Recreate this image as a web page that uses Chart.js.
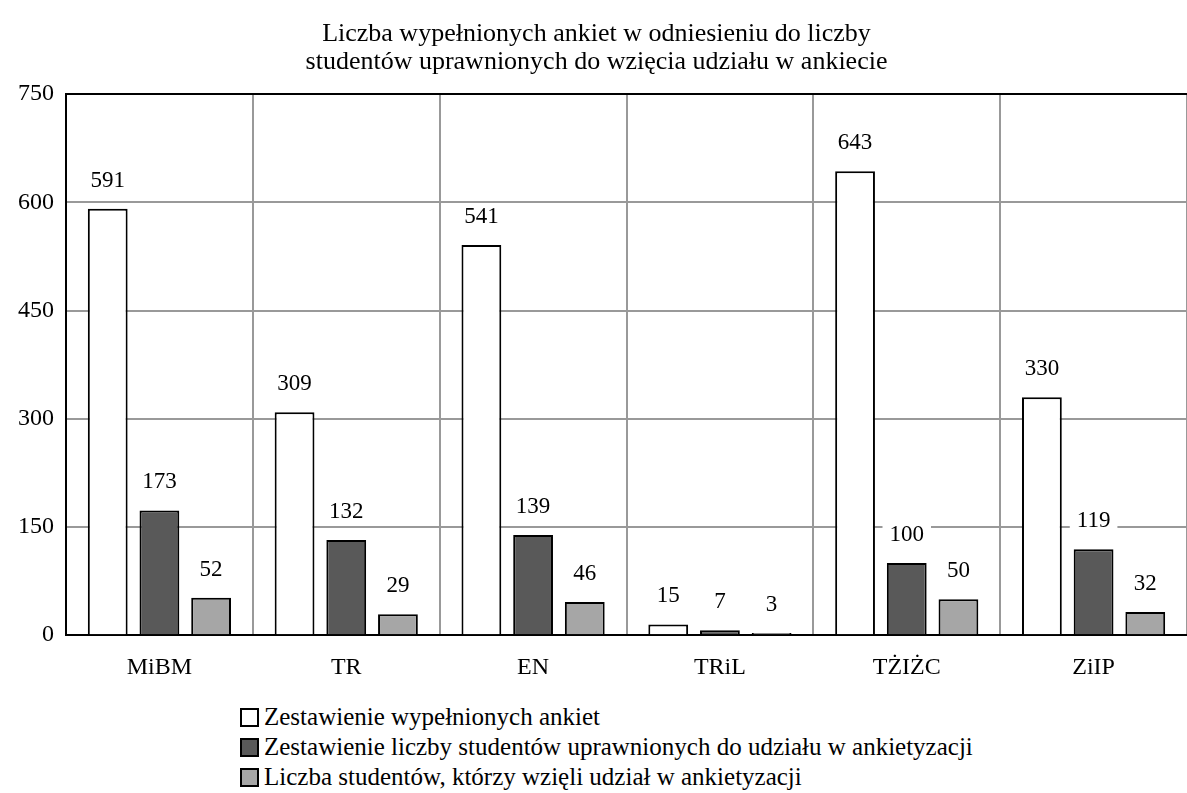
<!DOCTYPE html>
<html>
<head>
<meta charset="utf-8">
<script src="https://cdn.jsdelivr.net/npm/chart.js@4.4.0/dist/chart.umd.min.js"></script>
<style>
  body { margin: 0; background: #fff; overflow: hidden; }
  #wrap { position: relative; width: 1187px; height: 700px; }
  #legend { position: absolute; left: 240px; top: 702px; font-family: "Liberation Serif", serif; font-size: 25px; color: #000; }
  #legend div { height: 30px; line-height: 30px; display: flex; align-items: center; }
  #legend span.box { display: inline-block; width: 15px; height: 15px; border: 2px solid #000; margin-right: 5px; }
</style>
</head>
<body>
<div id="wrap"><canvas id="barCanvas"></canvas></div>
<div id="legend"></div>
<script>
var categories = ['MiBM', 'TR', 'EN', 'TRiL', 'TŻIŻC', 'ZiIP'];
var filledSurveys = [591, 309, 541, 15, 643, 330];
var eligibleStudents = [173, 132, 139, 7, 100, 119];
var participants = [52, 29, 46, 3, 50, 32];
var yTicks = [0, 150, 300, 450, 600, 750];

var seriesNames = [
    'Zestawienie wypełnionych ankiet',
    'Zestawienie liczby studentów uprawnionych do udziału w ankietyzacji',
    'Liczba studentów, którzy wzięli udział w ankietyzacji'
];
var seriesColors = ['#ffffff', '#595959', '#a6a6a6'];

// labels above bars with white background (they cut the grid lines)
var valueLabels = {
    id: 'valueLabels',
    afterDatasetsDraw: function(chart) {
        var ctx = chart.ctx;
        ctx.save();
        ctx.font = '23px "Liberation Serif", serif';
        ctx.textAlign = 'center';
        ctx.textBaseline = 'middle';
        chart.data.datasets.forEach(function(ds, di) {
            var meta = chart.getDatasetMeta(di);
            meta.data.forEach(function(bar, i) {
                var txt = String(ds.data[i]);
                var w = ctx.measureText(txt).width + 14;
                var y = bar.y - 28;
                ctx.fillStyle = '#fff';
                ctx.fillRect(bar.x - w / 2, y - 13, w, 26);
                ctx.fillStyle = '#000';
                ctx.fillText(txt, bar.x, y);
            });
        });
        ctx.restore();
    }
};

var barChartData = {
    labels: categories,
    datasets: [{
        label: seriesNames[0],
        backgroundColor: seriesColors[0],
        borderColor: '#000',
        borderWidth: 2,
        data: filledSurveys
    }, {
        label: seriesNames[1],
        backgroundColor: seriesColors[1],
        borderColor: '#000',
        borderWidth: 2,
        data: eligibleStudents
    }, {
        label: seriesNames[2],
        backgroundColor: seriesColors[2],
        borderColor: '#000',
        borderWidth: 2,
        data: participants
    }]
};

var ctx = document.getElementById('barCanvas').getContext('2d');
window.myBar = new Chart(ctx, {
    type: 'bar',
    data: barChartData,
    plugins: [valueLabels],
    options: {
        responsive: true,
        maintainAspectRatio: false,
        animation: false,
        categoryPercentage: 0.83,
        barPercentage: 0.77,
        layout: { padding: { left: 6, right: 0, top: 4, bottom: 0 } },
        plugins: {
            legend: { display: false },
            tooltip: { enabled: false },
            title: {
                display: true,
                text: ['Liczba wypełnionych ankiet w odniesieniu do liczby', 'studentów uprawnionych do wzięcia udziału w ankiecie'],
                color: '#000',
                font: { family: '"Liberation Serif", serif', size: 26, weight: 'normal', lineHeight: 1.08 },
                padding: { top: 16, bottom: 18 }
            }
        },
        scales: {
            x: {
                grid: { color: '#999', lineWidth: 2, drawTicks: false, offset: true },
                border: { color: '#000', width: 2 },
                ticks: { color: '#000', font: { family: '"Liberation Serif", serif', size: 24 }, padding: 18 }
            },
            y: {
                min: 0,
                max: 750,
                afterBuildTicks: function(axis) {
                    axis.ticks = yTicks.map(function(v) { return { value: v }; });
                },
                grid: {
                    color: function(c) { return c.tick && c.tick.value === 750 ? '#000' : '#999'; },
                    lineWidth: 2,
                    drawTicks: false
                },
                border: { color: '#000', width: 2 },
                ticks: { color: '#000', font: { family: '"Liberation Serif", serif', size: 24 }, padding: 12 }
            }
        }
    }
});

var legend = document.getElementById('legend');
seriesNames.forEach(function(name, i) {
    var row = document.createElement('div');
    var box = document.createElement('span');
    box.className = 'box';
    box.style.background = seriesColors[i];
    row.appendChild(box);
    row.appendChild(document.createTextNode(name));
    legend.appendChild(row);
});
</script>
</body>
</html>
